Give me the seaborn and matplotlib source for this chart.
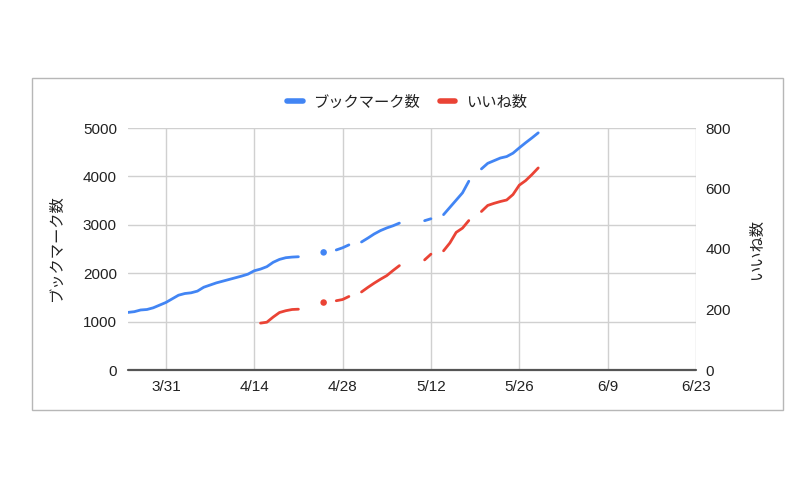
import numpy as np
import pandas as pd
import matplotlib
matplotlib.use('Agg')
import matplotlib.pyplot as plt
from matplotlib.patches import Rectangle
from matplotlib.lines import Line2D
import seaborn as sns

nan = np.nan

# daily values, 3/25 - 5/29 (nan = no data that day)
dates = pd.date_range('2024-03-25', '2024-05-29', freq='D')

bookmarks = [
    1190, 1205, 1240, 1250, 1285, 1340, 1395,               # 3/25 - 3/31
    1470, 1545, 1580, 1595, 1630, 1710, 1755,               # 4/1 - 4/7
    1800, 1835, 1870, 1905, 1940, 1980, 2050,               # 4/8 - 4/14
    2085, 2135, 2225, 2285, 2320, 2333, 2340,               # 4/15 - 4/21
    nan, nan, nan, 2430, nan, 2480, 2525,                   # 4/22 - 4/28
    2585, nan, 2645, 2725, 2810, 2880, 2935,                # 4/29 - 5/5
    2980, 3035, nan, nan, nan, 3085, 3125,                  # 5/6 - 5/12
    nan, 3210, 3360, 3510, 3660, 3900, nan,                 # 5/13 - 5/19
    4155, 4270, 4325, 4380, 4410, 4480, 4590,               # 5/20 - 5/26
    4695, 4795, 4900,                                       # 5/27 - 5/29
]

likes = [
    nan, nan, nan, nan, nan, nan, nan,                      # 3/25 - 3/31
    nan, nan, nan, nan, nan, nan, nan,                      # 4/1 - 4/7
    nan, nan, nan, nan, nan, nan, nan,                      # 4/8 - 4/14
    155, 158, 175, 190, 196, 200, 201,                      # 4/15 - 4/21
    nan, nan, nan, 223, nan, 229, 233,                      # 4/22 - 4/28
    243, nan, 258, 273, 287, 300, 312,                      # 4/29 - 5/5
    329, 345, nan, nan, nan, 364, 383,                      # 5/6 - 5/12
    nan, 394, 420, 455, 469, 494, nan,                      # 5/13 - 5/19
    524, 544, 551, 557, 562, 580, 611,                      # 5/20 - 5/26
    626, 646, 668,                                          # 5/27 - 5/29
]

tick_dates = pd.date_range('2024-03-31', '2024-06-23', freq='14D')
tick_labels = [f"{d.month}/{d.day}" for d in tick_dates]

BLUE = '#4285F4'
RED = '#EA4335'

sns.set_style('white')
plt.rcParams['font.family'] = ['Liberation Sans', 'Noto Sans CJK JP', 'DejaVu Sans']


def draw_series(ax, values, color):
    s = pd.Series(values, index=dates, dtype=float)
    ok = s.notna()
    seg_id = (~ok).cumsum()
    for _, seg in s[ok].groupby(seg_id[ok]):
        if len(seg) == 1:
            sns.scatterplot(x=seg.index, y=seg.values, ax=ax, color=color,
                            s=22, edgecolor='none', zorder=3)
        else:
            sns.lineplot(x=seg.index, y=seg.values, ax=ax, color=color,
                         linewidth=2, zorder=3)


fig = plt.figure(figsize=(8, 5), dpi=100)
fig.patches.append(Rectangle((0.04, 0.18), 0.939, 0.664, transform=fig.transFigure,
                             fill=False, edgecolor='#b7b7b7', linewidth=1))

ax = fig.add_axes([0.16, 0.26, 0.71, 0.484])
ax2 = ax.twinx()

draw_series(ax, bookmarks, BLUE)
draw_series(ax2, likes, RED)

ax.set_xlim(pd.Timestamp('2024-03-25'), pd.Timestamp('2024-06-23'))
ax.set_ylim(0, 5000)
ax2.set_ylim(0, 800)
ax.set_yticks(range(0, 5001, 1000))
ax2.set_yticks(range(0, 801, 200))
ax.set_xticks(tick_dates)
ax.set_xticklabels(tick_labels)

ax.grid(True, color='#d0d0d0', linewidth=1)
ax.set_axisbelow(True)
ax2.grid(False)
ax.axhline(0, color='#555555', linewidth=1.6, clip_on=False, zorder=4)

for a in (ax, ax2):
    for sp in a.spines.values():
        sp.set_visible(False)
    a.tick_params(length=0, labelsize=11, labelcolor='#222222')
ax.tick_params(axis='y', pad=8)
ax.tick_params(axis='x', pad=7)
ax2.tick_params(axis='y', pad=7)

ax.set_xlabel('')
ax.set_ylabel('ブックマーク数', fontsize=11, color='#222222')
ax2.set_ylabel('いいね数', fontsize=11, color='#222222')
ax.yaxis.set_label_coords(-0.113, 0.5)
ax2.yaxis.set_label_coords(1.095, 0.5)

handles = [Line2D([], [], color=BLUE, linewidth=4),
           Line2D([], [], color=RED, linewidth=4)]
fig.legend(handles, ['ブックマーク数', 'いいね数'], loc='center',
           bbox_to_anchor=(0.509, 0.795), ncol=2, frameon=False,
           fontsize=11, handlelength=1.0, handletextpad=0.7,
           columnspacing=1.3, labelcolor='#222222')

fig.savefig('out.png', dpi=100)
